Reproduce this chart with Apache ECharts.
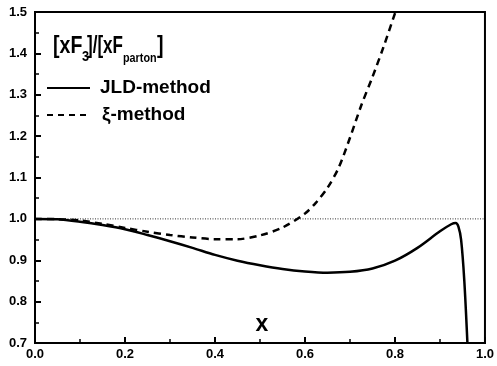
<!DOCTYPE html>
<html>
<head>
<meta charset="utf-8">
<script src="https://cdn.jsdelivr.net/npm/echarts@6/dist/echarts.min.js"></script>
<style>
html,body{margin:0;padding:0;background:#fff;}
#chart{width:497px;height:366px;}
</style>
</head>
<body>
<div id="chart"></div>
<script>
// ---- data ----
const jldX = [0, 0.05, 0.1, 0.15, 0.2, 0.25, 0.3, 0.35, 0.4, 0.45, 0.5, 0.55, 0.6, 0.65, 0.7, 0.75, 0.8, 0.85, 0.9, 0.925, 0.935, 0.941, 0.947, 0.954, 0.961];
const jldY = [1.0, 0.999, 0.993, 0.985, 0.975, 0.961, 0.946, 0.93, 0.913, 0.899, 0.888, 0.879, 0.873, 0.870, 0.872, 0.880, 0.899, 0.930, 0.970, 0.987, 0.990, 0.981, 0.949, 0.852, 0.70];
const xiX = [0, 0.05, 0.1, 0.15, 0.2, 0.25, 0.3, 0.35, 0.4, 0.45, 0.5, 0.55, 0.6, 0.625, 0.65, 0.675, 0.7, 0.725, 0.75, 0.775, 0.801];
const xiY = [1.0, 0.9995, 0.996, 0.988, 0.978, 0.969, 0.961, 0.955, 0.951, 0.951, 0.960, 0.979, 1.013, 1.040, 1.075, 1.124, 1.196, 1.274, 1.343, 1.417, 1.5];
const refX = [0, 1];
const refY = [1.0, 1.0];
const xTicks = [0, 0.2, 0.4, 0.6, 0.8, 1.0];
const yTicks = [0.7, 0.8, 0.9, 1.0, 1.1, 1.2, 1.3, 1.4, 1.5];
const seriesNames = ['JLD-method', 'ξ-method'];

const pair = (xs, ys) => xs.map((x, i) => [x, ys[i]]);
const FONT = '"Liberation Sans", Arial, sans-serif';

const chart = echarts.init(document.getElementById('chart'), null, {renderer: 'canvas'});
const labelStyle = {color: '#000', fontFamily: FONT, fontWeight: 'bold', fontSize: 13};

chart.setOption({
  animation: false,
  backgroundColor: '#fff',
  grid: {left: 35, right: 9, top: 12, bottom: 23, containLabel: false,
         show: true, borderColor: '#000', borderWidth: 2, backgroundColor: 'transparent'},
  xAxis: {
    type: 'value', min: xTicks[0], max: xTicks[xTicks.length - 1], interval: 0.2,
    axisLine: {show: true, onZero: false, lineStyle: {color: '#000', width: 2}},
    axisTick: {show: true, inside: true, length: 6, lineStyle: {color: '#000', width: 2}},
    minorTick: {show: true, splitNumber: 2, length: 4, lineStyle: {color: '#000', width: 1.5}},
    splitLine: {show: false},
    axisLabel: Object.assign({margin: 5, formatter: v => v.toFixed(1)}, labelStyle)
  },
  yAxis: {
    type: 'value', min: yTicks[0], max: yTicks[yTicks.length - 1], interval: 0.1,
    axisLine: {show: true, onZero: false, lineStyle: {color: '#000', width: 2}},
    axisTick: {show: true, inside: true, length: 6, lineStyle: {color: '#000', width: 2}},
    minorTick: {show: true, splitNumber: 2, length: 4, lineStyle: {color: '#000', width: 1.5}},
    splitLine: {show: false},
    axisLabel: Object.assign({margin: 8, formatter: v => v.toFixed(1)}, labelStyle)
  },
  series: [
    {
      name: 'ref', type: 'line', data: pair(refX, refY), symbol: 'none', silent: true,
      lineStyle: {color: '#333', width: 1, type: [1, 1.5]}
    },
    {
      name: seriesNames[0], type: 'line', data: pair(jldX, jldY), symbol: 'none', clip: true,
      smooth: 0.3,
      lineStyle: {color: '#000', width: 2.5}
    },
    {
      name: seriesNames[1], type: 'line', data: pair(xiX, xiY), symbol: 'none', clip: true,
      smooth: 0.3,
      lineStyle: {color: '#000', width: 2.5, type: [7, 5]}
    }
  ],
  graphic: [
    {type: 'text', x: 53, y: 47, scaleX: 0.85, style: {text: '[xF', font: 'bold 23px ' + FONT, fill: '#000', verticalAlign: 'middle'}},
    {type: 'text', x: 82, y: 57, scaleX: 0.85, style: {text: '3', font: 'bold 15px ' + FONT, fill: '#000', verticalAlign: 'middle'}},
    {type: 'text', x: 87, y: 47, scaleX: 0.74, style: {text: ']/[xF', font: 'bold 23px ' + FONT, fill: '#000', verticalAlign: 'middle'}},
    {type: 'text', x: 123, y: 59, scaleX: 0.9, style: {text: 'parton', font: 'bold 12px ' + FONT, fill: '#000', verticalAlign: 'middle'}},
    {type: 'text', x: 157, y: 47, scaleX: 0.85, style: {text: ']', font: 'bold 23px ' + FONT, fill: '#000', verticalAlign: 'middle'}},
    {type: 'line', shape: {x1: 47, y1: 88, x2: 90, y2: 88}, style: {stroke: '#000', lineWidth: 2}},
    {type: 'text', x: 100, y: 88, style: {text: seriesNames[0], font: 'bold 19px ' + FONT, fill: '#000', verticalAlign: 'middle'}},
    {type: 'line', shape: {x1: 47, y1: 115, x2: 90, y2: 115}, style: {stroke: '#000', lineWidth: 2, lineDash: [6, 5]}},
    {type: 'text', x: 102, y: 115, style: {text: seriesNames[1], font: 'bold 19px ' + FONT, fill: '#000', verticalAlign: 'middle'}},
    {type: 'text', x: 262, y: 325, style: {text: 'x', font: 'bold 23px ' + FONT, fill: '#000', align: 'center', verticalAlign: 'middle'}}
  ]
});
</script>
</body>
</html>
